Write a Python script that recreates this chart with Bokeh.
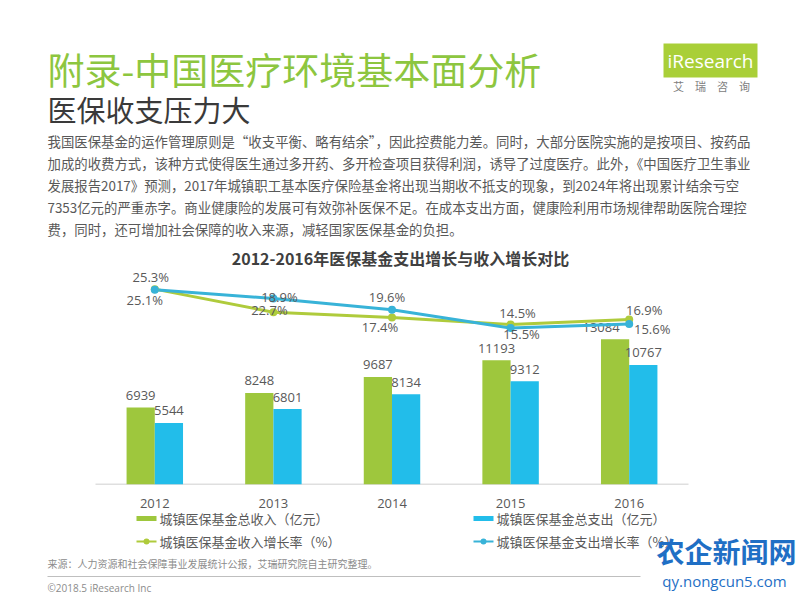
from bokeh.plotting import figure
from bokeh.layouts import column
from bokeh.models import Range1d, Label, BoxAnnotation, ColumnDataSource, FixedTicker
from bokeh.transform import dodge
from bokeh.core.properties import value
from bokeh.embed import file_html
from bokeh.resources import INLINE

# ---------------- data ----------------
years = ["2012", "2013", "2014", "2015", "2016"]
income = [6939, 8248, 9687, 11193, 13084]          # 城镇医保基金总收入（亿元）
expense = [5544, 6801, 8134, 9312, 10767]          # 城镇医保基金总支出（亿元）
income_growth = [25.3, 18.9, 17.4, 15.5, 16.9]     # 收入增长率（%）
expense_growth = [25.1, 22.7, 19.6, 14.5, 15.6]    # 支出增长率（%）

title_text = "附录-中国医疗环境基本面分析"
subtitle_text = "医保收支压力大"
body_lines = [
    "我国医保基金的运作管理原则是“收支平衡、略有结余”，因此控费能力差。同时，大部分医院实施的是按项目、按药品",
    "加成的收费方式，该种方式使得医生通过多开药、多开检查项目获得利润，诱导了过度医疗。此外，《中国医疗卫生事业",
    "发展报告2017》预测，2017年城镇职工基本医疗保险基金将出现当期收不抵支的现象，到2024年将出现累计结余亏空",
    "7353亿元的严重赤字。商业健康险的发展可有效弥补医保不足。在成本支出方面，健康险利用市场规律帮助医院合理控",
    "费，同时，还可增加社会保障的收入来源，减轻国家医保基金的负担。",
]
chart_title = "2012-2016年医保基金支出增长与收入增长对比"
legend_names = ["城镇医保基金总收入（亿元）", "城镇医保基金总支出（亿元）",
                "城镇医保基金收入增长率（%）", "城镇医保基金支出增长率（%）"]
source_text = "来源：人力资源和社会保障事业发展统计公报，艾瑞研究院自主研究整理。"
copyright_text = "©2018.5 iResearch Inc"

# ---------------- styles / label offsets (screen px) ----------------
GREEN_BAR = "#9ec73d"
BLUE_BAR = "#22bdea"
GREEN_LINE = "#afcb3c"
BLUE_LINE = "#38b3d8"
TXT = "#595959"
CJK = "Noto Sans CJK SC"
NUM = "Open Sans"

income_lbl_dx = [0, 0, 0, 0, -14]
ig_dx = [-4, 6, -12, 11, 15]
ig_dy = [-12, -15, 9, 10, -9]
eg_dx = [-10, -4, -5, 7, 23]
eg_dy = [10, 11, -13, -15, 5]

W = 800
HEAD_B = 268          # header: page y 0..268
CHART_B = 510         # chart:  page y 268..510
FULL_H = 600          # footer: page y 510..600
FL, FR, FB = 95, 688, 484   # chart area on the page
PX_PER_UNIT = 0.0111
PCT_Y0, PCT_V0, PX_PER_PCT = 289, 25.2, 3.6


def blank(top, bottom):
    f = figure(width=W, height=bottom - top, x_range=Range1d(0, W), y_range=Range1d(bottom, top),
               output_backend="svg", toolbar_location=None, tools="",
               min_border=0, x_axis_location=None, y_axis_location=None)
    f.outline_line_color = None
    f.xgrid.visible = False
    f.ygrid.visible = False
    return f


def lab(f, x, y, text, size, color, font=CJK, style="normal", align="left", baseline="middle", **kw):
    f.add_layout(Label(x=x, y=y, text=text, text_font_size=f"{size}px", text_color=color,
                       text_font=font, text_font_style=style, text_align=align,
                       text_baseline=baseline, **kw))


def box(f, l, r, t, b, color):
    f.add_layout(BoxAnnotation(left=l, right=r, top=t, bottom=b, fill_color=color,
                               fill_alpha=1, line_color=None))


# ================= header =================
head = blank(0, HEAD_B)
lab(head, 47, 68, title_text, 37, "#8dc63f")
lab(head, 47, 108, subtitle_text, 29, "#3a3a3a")
for i, line in enumerate(body_lines):
    lab(head, 47, 140 + 22 * i, line, 13.4, TXT)
lab(head, 400, 257, chart_title, 16, "#404040", style="bold", align="center")
lab(head, 710, 60, "iResearch", 19, "white", font="Open Sans", align="center",
    background_fill_color="#a9cf38", background_fill_alpha=1, padding=4)
lab(head, 711, 85, "艾　瑞　咨　询", 11, "#808080", align="center")

# ================= chart =================
FT = HEAD_B
n = len(years)
kx = (FR - FL) / n                      # page px per category
p = figure(
    width=W, height=CHART_B - HEAD_B,
    x_range=Range1d(-FL / kx, n + (W - FR) / kx),
    y_range=Range1d(0, (FB - FT) / PX_PER_UNIT),
    output_backend="svg", toolbar_location=None, tools="",
    min_border_left=0, min_border_right=0,
    min_border_top=0, min_border_bottom=CHART_B - FB,
    y_axis_location=None,
)
p.extra_y_ranges = {
    "pct": Range1d(PCT_V0 - (FB - PCT_Y0) / PX_PER_PCT, PCT_V0 + (PCT_Y0 - FT) / PX_PER_PCT),
}
p.outline_line_color = None
p.xgrid.visible = False
p.ygrid.visible = False

xpos = [i + 0.5 for i in range(n)]
p.xaxis.ticker = FixedTicker(ticks=xpos)
p.xaxis.major_label_overrides = {x: y for x, y in zip(xpos, years)}
p.xaxis.axis_line_color = None
p.xaxis.major_tick_line_color = None
p.xaxis.minor_tick_line_color = None
p.xaxis.major_label_text_font = NUM
p.xaxis.major_label_text_font_size = "13px"
p.xaxis.major_label_text_color = TXT
p.xaxis.major_label_standoff = 8
# visible baseline spanning the category band only
p.hbar(y=[0], left=[0], right=[n], height=0, line_color="#bfbfbf", line_width=1.5)

src = ColumnDataSource(dict(
    x=xpos, year=years, income=income, expense=expense,
    ig=income_growth, eg=expense_growth,
    income_s=[str(v) for v in income], expense_s=[str(v) for v in expense],
    ig_s=[f"{v}%" for v in income_growth], eg_s=[f"{v}%" for v in expense_growth],
    income_dx=income_lbl_dx, ig_dx=ig_dx, ig_dy=ig_dy, eg_dx=eg_dx, eg_dy=eg_dy,
))

BW = 0.238
xg = dodge("x", -BW / 2)
xb = dodge("x", BW / 2)
p.vbar(x=xg, top="income", width=BW, source=src, fill_color=GREEN_BAR, line_color=None)
p.vbar(x=xb, top="expense", width=BW, source=src, fill_color=BLUE_BAR, line_color=None)

p.text(x=xg, y="income", text="income_s", source=src, x_offset="income_dx", y_offset=-12,
       text_align="center", text_baseline="middle", text_font=value(NUM),
       text_font_size="13px", text_color=TXT)
p.text(x=xb, y="expense", text="expense_s", source=src, y_offset=-12,
       text_align="center", text_baseline="middle", text_font=value(NUM),
       text_font_size="13px", text_color=TXT)

p.line(x="x", y="ig", source=src, y_range_name="pct", line_color=GREEN_LINE, line_width=3)
p.line(x="x", y="eg", source=src, y_range_name="pct", line_color=BLUE_LINE, line_width=3)
p.scatter(x="x", y="ig", source=src, y_range_name="pct", size=8, fill_color=GREEN_LINE, line_color=None)
p.scatter(x="x", y="eg", source=src, y_range_name="pct", size=8, fill_color=BLUE_LINE, line_color=None)

p.text(x="x", y="ig", text="ig_s", source=src, y_range_name="pct", x_offset="ig_dx", y_offset="ig_dy",
       text_align="center", text_baseline="middle", text_font=value(NUM),
       text_font_size="13px", text_color=TXT)
p.text(x="x", y="eg", text="eg_s", source=src, y_range_name="pct", x_offset="eg_dx", y_offset="eg_dy",
       text_align="center", text_baseline="middle", text_font=value(NUM),
       text_font_size="13px", text_color=TXT)

# ================= footer (legend, source) =================
foot = blank(CHART_B, FULL_H)
box(foot, 136, 156, 515.5, 520.5, GREEN_BAR)
lab(foot, 159, 518, legend_names[0], 13, TXT)
box(foot, 473, 493, 515.5, 520.5, BLUE_BAR)
lab(foot, 496, 518, legend_names[1], 13, TXT)
box(foot, 136, 156, 540, 542, GREEN_LINE)
box(foot, 473, 493, 540, 542, BLUE_LINE)
foot.scatter(x=[146, 483], y=[541, 541], size=6, fill_color=[GREEN_LINE, BLUE_LINE], line_color=None)
lab(foot, 159, 541, legend_names[2], 13, TXT)
lab(foot, 496, 541, legend_names[3], 13, TXT)

lab(foot, 47, 563, source_text, 10, "#8c8c8c")
box(foot, 47, 640, 575.5, 576.5, "#bfbfbf")
lab(foot, 47, 587, copyright_text, 10, "#8c8c8c", font="Open Sans")

lab(foot, 726, 550, "农企新闻网", 28, "#1f6fc5", style="bold", align="center")
lab(foot, 724, 580, "qy.nongcun5.com", 15, "#1f6fc5", font="Open Sans", align="center")

layout = column(head, p, foot, spacing=0)
open("out.html", "w").write(file_html(layout, INLINE))
